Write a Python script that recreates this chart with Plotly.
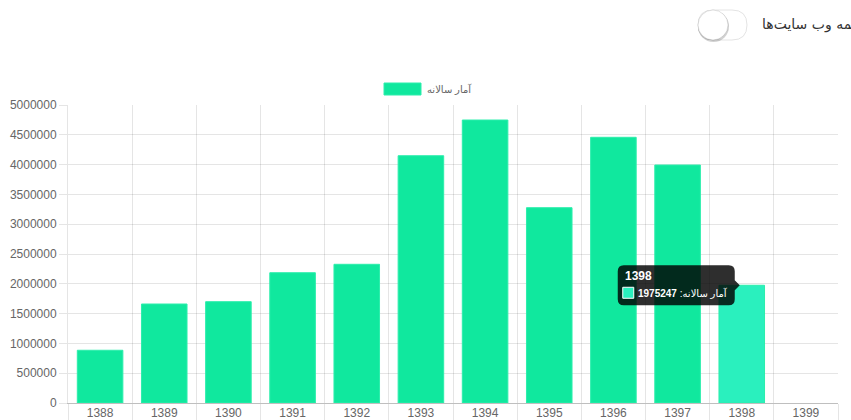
import plotly.graph_objects as go

# Yearly statistics (Persian calendar years)
years = ["1388", "1389", "1390", "1391", "1392", "1393",
         "1394", "1395", "1396", "1397", "1398", "1399"]
values = [885000, 1661000, 1700000, 2186000, 2327000, 4149000,
          4748000, 3277000, 4458000, 3993000, 1975247, None]
series_name = "آمار سالانه"
toggle_label = "همه وب سایت‌ها"
active_year = "1398"

W, H = 851, 420
ML, MR, MT, MB = 68, 13, 105, 17
PW, PH = W - ML - MR, H - MT - MB

BAR = "rgb(16,232,158)"
BAR_EDGE = "rgb(44,238,172)"
BAR_HI = "rgb(42,240,190)"
GRID = "rgba(0,0,0,0.1)"
TXT = "#666666"
FONT = "Liberation Sans, Arial, DejaVu Sans, sans-serif"


def px(x):
    return (x - ML) / PW


def py(y):
    return (H - MB - y) / PH


def rounded_rect(x0, y0, x1, y1, r):
    return (f"M{x0 + r},{y1} L{x1 - r},{y1} Q{x1},{y1} {x1},{y1 - r} "
            f"L{x1},{y0 + r} Q{x1},{y0} {x1 - r},{y0} L{x0 + r},{y0} "
            f"Q{x0},{y0} {x0},{y0 + r} L{x0},{y1 - r} Q{x0},{y1} {x0 + r},{y1} Z")


colors = [BAR_HI if y == active_year else BAR for y in years]

fig = go.Figure(go.Bar(
    x=years, y=values, name=series_name,
    marker=dict(color=colors, line=dict(color=BAR_EDGE, width=1)),
    hoverinfo="skip",
))

shapes = []
annotations = []

# legend swatch + label
shapes.append(dict(type="rect", xref="paper", yref="paper",
                   x0=px(384), x1=px(421), y0=py(95), y1=py(83),
                   fillcolor=BAR, line=dict(color=BAR_EDGE, width=1)))
annotations.append(dict(xref="paper", yref="paper", x=px(425), y=py(89),
                        text=series_name, showarrow=False, xanchor="left",
                        yanchor="middle", font=dict(family=FONT, size=10, color=TXT)))

# toggle switch (off state)
shapes.append(dict(type="path", xref="paper", yref="paper",
                   xsizemode="pixel", ysizemode="pixel",
                   xanchor=px(722.5), yanchor=py(25),
                   path=rounded_rect(-24.5, -15, 24.5, 15, 15),
                   fillcolor="white", line=dict(color="#e4e4e4", width=1)))
shapes.append(dict(type="circle", xref="paper", yref="paper",
                   xsizemode="pixel", ysizemode="pixel",
                   xanchor=px(713.5), yanchor=py(26.5),
                   x0=-15.5, x1=15.5, y0=-15.5, y1=15.5,
                   fillcolor="rgba(0,0,0,0.18)", line=dict(width=0)))
shapes.append(dict(type="circle", xref="paper", yref="paper",
                   xsizemode="pixel", ysizemode="pixel",
                   xanchor=px(713), yanchor=py(25),
                   x0=-15, x1=15, y0=-15, y1=15,
                   fillcolor="white", line=dict(color="rgba(0,0,0,0.12)", width=1)))
annotations.append(dict(xref="paper", yref="paper", x=px(861), y=py(25),
                        text=toggle_label, showarrow=False, xanchor="right",
                        yanchor="middle",
                        font=dict(family="DejaVu Sans, sans-serif", size=14, color="#333333")))

# tooltip for the active year, anchored on its bar top
ai = years.index(active_year)
av = values[ai]
tip = ("M-118,20 L-13,20 Q-7,20 -7,14 L-7,5 L-2,0 L-7,-5 L-7,-14 "
       "Q-7,-20 -13,-20 L-118,-20 Q-124,-20 -124,-14 L-124,14 Q-124,20 -118,20 Z")
shapes.append(dict(type="path", xref="x", yref="y",
                   xsizemode="pixel", ysizemode="pixel",
                   xanchor=ai, yanchor=av, path=tip,
                   fillcolor="rgba(0,0,0,0.82)", line=dict(width=0)))
shapes.append(dict(type="rect", xref="x", yref="y",
                   xsizemode="pixel", ysizemode="pixel",
                   xanchor=ai, yanchor=av,
                   x0=-119, x1=-108, y0=-13, y1=-2,
                   fillcolor=BAR_HI, line=dict(color="white", width=1)))
annotations.append(dict(xref="x", yref="y", x=ai, y=av, xshift=-119, yshift=9,
                        text=f"<b>{active_year}</b>", showarrow=False,
                        xanchor="left", yanchor="middle",
                        font=dict(family=FONT, size=12, color="white")))
annotations.append(dict(xref="x", yref="y", x=ai, y=av, xshift=-106, yshift=-8,
                        text=f"{series_name}: <b>{av}</b>", showarrow=False,
                        xanchor="left", yanchor="middle",
                        font=dict(family=FONT, size=10, color="white")))

fig.update_layout(
    width=W, height=H,
    margin=dict(l=ML, r=MR, t=MT, b=MB, pad=0),
    paper_bgcolor="white", plot_bgcolor="white",
    showlegend=False, bargap=0.29,
    shapes=shapes, annotations=annotations,
    font=dict(family=FONT, size=12, color=TXT),
)
fig.update_xaxes(
    type="category", range=[-0.5, len(years) - 0.5], automargin=False,
    tickson="boundaries", ticks="outside", ticklen=17, tickcolor=GRID,
    showgrid=True, gridcolor=GRID, gridwidth=1,
    showline=True, linecolor="rgba(0,0,0,0.25)", linewidth=1,
    ticklabelstandoff=-1,
    tickfont=dict(family=FONT, size=12, color=TXT),
)
fig.update_yaxes(
    range=[0, 5000000], dtick=500000, tick0=0, tickformat="d", automargin=False,
    ticks="outside", ticklen=8, tickcolor=GRID,
    showgrid=True, gridcolor=GRID, gridwidth=1, zeroline=False,
    showline=True, linecolor=GRID,
    tickfont=dict(family=FONT, size=12, color=TXT),
)

fig.write_html("out.html")
